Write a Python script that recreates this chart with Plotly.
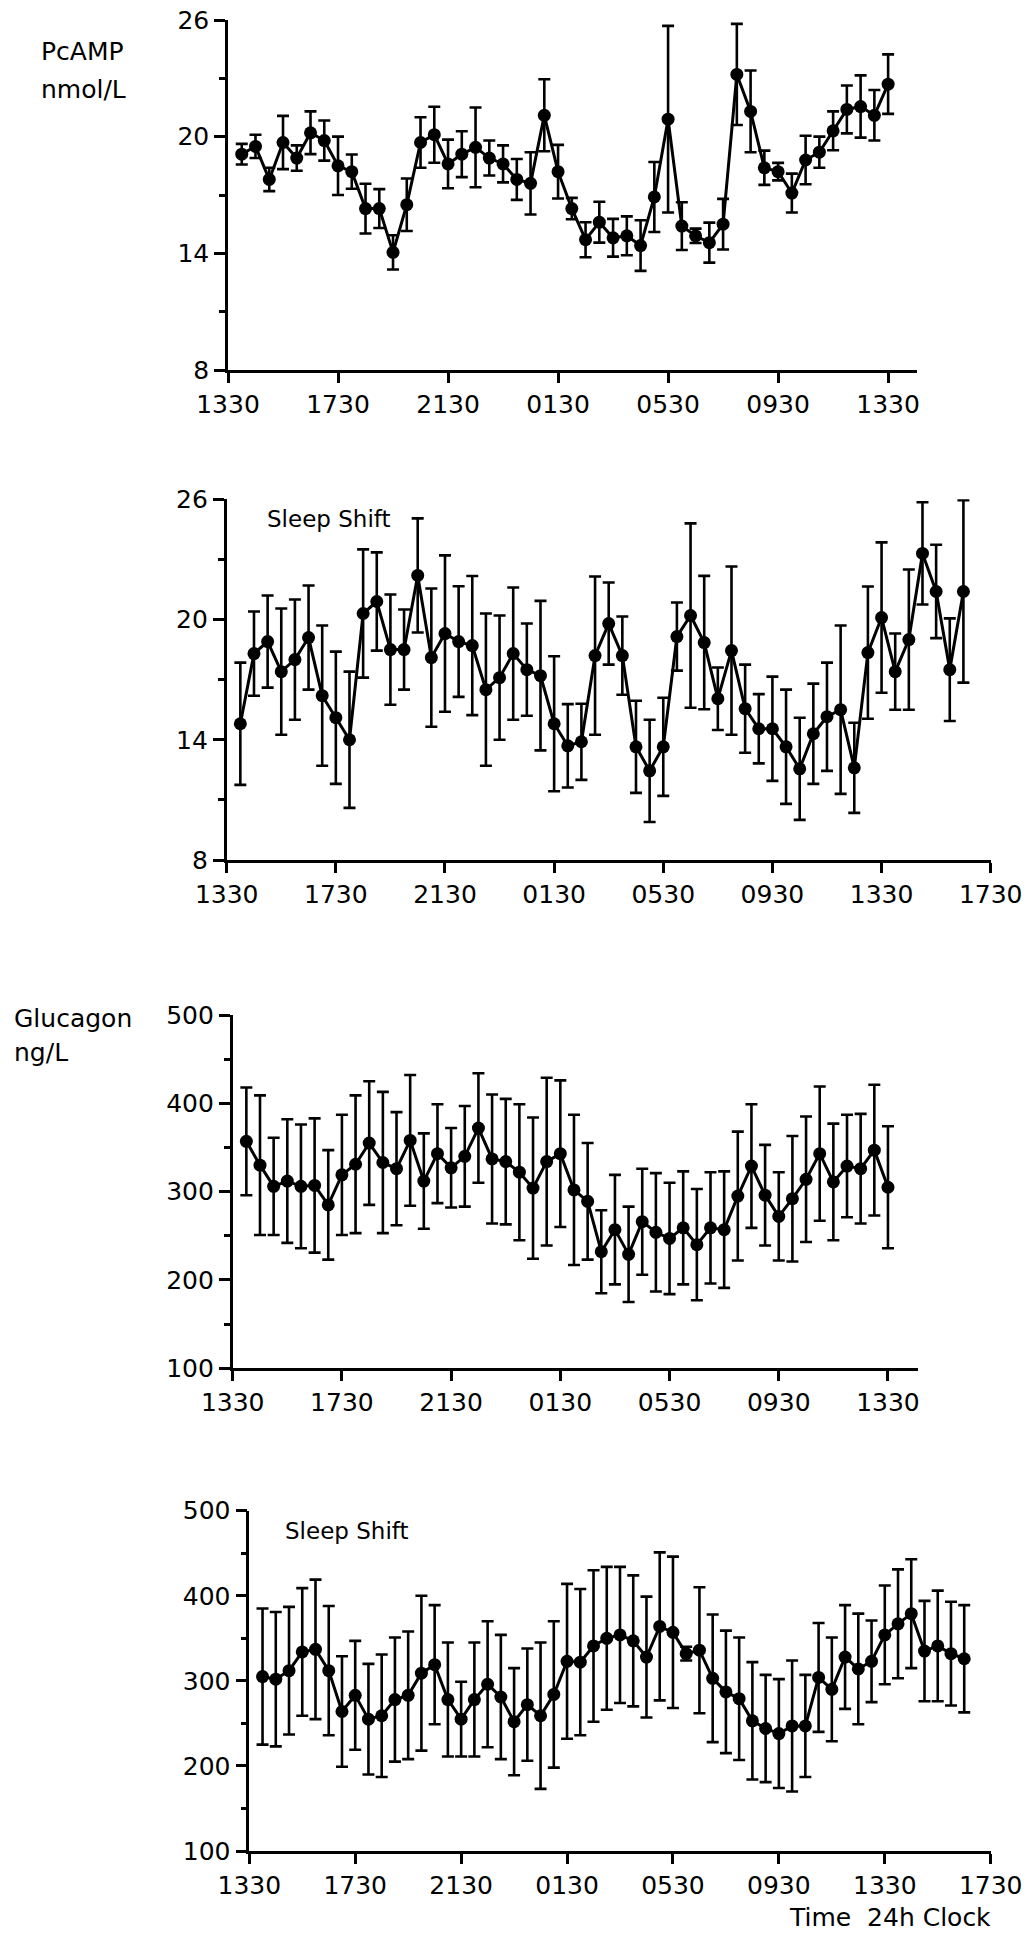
import plotly.graph_objects as go

# ---------------------------------------------------------------------------
# Data: 30-minute sampling, first sample at 14:00 (0.5 h after 13:30)
# ---------------------------------------------------------------------------
SAMPLE_START_H = 0.5
SAMPLE_STEP_H = 0.5

pcamp_normal = [19.1, 19.5, 17.8, 19.7, 18.9, 20.2, 19.8, 18.5, 18.2, 16.3,
                16.3, 14.05, 16.5, 19.7, 20.1, 18.6, 19.1, 19.45, 18.9, 18.6,
                17.8, 17.6, 21.1, 18.2, 16.3, 14.7, 15.6, 14.8, 14.9, 14.4,
                16.9, 20.9, 15.4, 14.9, 14.55, 15.5, 23.2, 21.3, 18.4, 18.2,
                17.1, 18.8, 19.2, 20.3, 21.4, 21.55, 21.1, 22.7]
pcamp_normal_sem = [0.53, 0.6, 0.6, 1.37, 0.65, 1.1, 1.03, 1.5, 0.88, 1.28,
                    1.0, 0.88, 1.35, 1.3, 1.44, 1.25, 1.18, 2.05, 0.9, 0.95,
                    1.05, 1.6, 1.85, 1.38, 0.55, 0.9, 1.05, 0.97, 1.0, 1.3,
                    1.8, 4.8, 1.23, 0.37, 1.03, 1.3, 2.6, 2.1, 0.88, 0.45,
                    1.0, 1.25, 0.8, 1.0, 1.23, 1.6, 1.3, 1.53]

pcamp_shift = [14.8, 18.3, 18.9, 17.4, 18.0, 19.1, 16.2, 15.1, 14.0, 20.3,
               20.9, 18.5, 18.5, 22.2, 18.1, 19.3, 18.9, 18.7, 16.5, 17.1,
               18.3, 17.5, 17.2, 14.8, 13.7, 13.9, 18.2, 19.8, 18.2, 13.65,
               12.45, 13.65, 19.15, 20.2, 18.85, 16.05, 18.45, 15.55, 14.55, 14.55,
               13.65, 12.55, 14.3, 15.15, 15.5, 12.6, 18.35, 20.1, 17.4, 19.0,
               23.3, 21.4, 17.5, 21.4]
pcamp_shift_sem = [3.05, 2.1, 2.3, 3.15, 3.0, 2.6, 3.5, 3.3, 3.4, 3.2,
                   2.45, 2.75, 2.0, 2.85, 3.45, 3.9, 2.76, 3.47, 3.8, 3.1,
                   3.3, 2.3, 3.73, 3.37, 2.08, 1.9, 3.95, 2.05, 1.95, 2.3,
                   2.55, 2.45, 1.7, 4.6, 3.33, 1.56, 4.2, 2.2, 1.73, 2.6,
                   2.85, 2.55, 2.5, 2.7, 4.2, 2.25, 3.3, 3.75, 1.9, 3.5,
                   2.55, 2.33, 2.56, 4.55]

glucagon_normal = [357, 330, 306, 312, 306, 307, 285, 319, 331, 355,
                   333, 326, 358, 312, 343, 327, 340, 372, 337, 334,
                   322, 304, 334, 343, 302, 289, 232, 257, 229, 266,
                   254, 247, 259, 240, 259, 257, 295, 329, 296, 272,
                   292, 314, 343, 311, 329, 326, 347, 305]
glucagon_normal_sem = [61, 79, 55, 70, 70, 76, 62, 68, 78, 70,
                       80, 64, 74, 54, 56, 45, 57, 62, 73, 71,
                       77, 80, 95, 83, 85, 66, 47, 62, 54, 60,
                       67, 63, 64, 63, 63, 66, 73, 70, 57, 50,
                       71, 71, 76, 66, 58, 62, 74, 69]

glucagon_shift = [305, 302, 312, 334, 337, 312, 264, 283, 255, 259,
                  278, 283, 309, 319, 278, 255, 278, 296, 281, 252,
                  272, 259, 284, 323, 322, 341, 350, 354, 347, 328,
                  364, 357, 332, 336, 303, 287, 279, 253, 244, 238,
                  247, 247, 304, 290, 328, 314, 323, 354, 367, 379,
                  335, 341, 332, 326]
glucagon_shift_sem = [80, 79, 75, 75, 82, 76, 65, 64, 65, 72,
                      73, 75, 91, 70, 67, 44, 67, 74, 73, 63,
                      66, 86, 86, 91, 86, 89, 84, 80, 77, 71,
                      87, 89, 8, 74, 75, 72, 72, 69, 63, 64,
                      77, 60, 64, 61, 61, 65, 48, 58, 64, 64,
                      59, 65, 61, 63]

# Clock ticks every 4 h, counted in hours after 13:30
clock_tick_hours = [0, 4, 8, 12, 16, 20, 24, 28]
clock_tick_text = ["1330", "1730", "2130", "0130", "0530", "0930", "1330", "1730"]

pcamp_ticks = [8, 14, 20, 26]
pcamp_minor = [11, 17, 23]
glucagon_ticks = [100, 200, 300, 400, 500]
glucagon_minor = [150, 250, 350, 450]

# ---------------------------------------------------------------------------
W, H = 1031, 1934
FONT = "DejaVu Sans"


def px_x(p):
    return p / W


def px_y(p):
    return 1 - p / H


# panel boxes in pixels: left, right, top, bottom
panels = [
    dict(y=pcamp_normal, e=pcamp_normal_sem, box=(228, 917, 20, 370), xend=25.05, nt=7,
         yr=[8, 26], yt=pcamp_ticks, ym=pcamp_minor),
    dict(y=pcamp_shift, e=pcamp_shift_sem, box=(226.7, 990.7, 499.3, 860), xend=28, nt=8,
         yr=[8, 26], yt=pcamp_ticks, ym=pcamp_minor),
    dict(y=glucagon_normal, e=glucagon_normal_sem, box=(232.7, 918, 1015, 1368.3), xend=25.1, nt=7,
         yr=[100, 500], yt=glucagon_ticks, ym=glucagon_minor),
    dict(y=glucagon_shift, e=glucagon_shift_sem, box=(249.3, 990.7, 1510.7, 1851), xend=28, nt=8,
         yr=[100, 500], yt=glucagon_ticks, ym=glucagon_minor),
]

fig = go.Figure()
layout_axes = {}
for k, p in enumerate(panels, start=1):
    sfx = "" if k == 1 else str(k)
    x0, x1, yt_px, yb_px = p["box"]
    hours = [SAMPLE_START_H + SAMPLE_STEP_H * i for i in range(len(p["y"]))]
    fig.add_trace(go.Scatter(
        x=hours, y=p["y"],
        xaxis="x" + sfx, yaxis="y" + sfx,
        mode="lines+markers",
        line=dict(color="black", width=3),
        marker=dict(color="black", size=13),
        error_y=dict(type="data", array=p["e"], visible=True,
                     color="black", thickness=2.6, width=6),
        showlegend=False, hoverinfo="skip",
        cliponaxis=False,
    ))
    axis_common = dict(
        showline=True, linecolor="black", linewidth=2.6,
        ticks="outside", tickcolor="black", tickwidth=2.6,
        showgrid=False, zeroline=False, automargin=False,
        tickfont=dict(family=FONT, size=25, color="black"),
    )
    layout_axes["xaxis" + sfx] = dict(
        axis_common,
        domain=[px_x(x0), px_x(x1)],
        range=[0, p["xend"]],
        anchor="y" + sfx,
        tickmode="array",
        tickvals=clock_tick_hours[:p["nt"]],
        ticktext=clock_tick_text[:p["nt"]],
        ticklen=10,
    )
    layout_axes["yaxis" + sfx] = dict(
        axis_common,
        domain=[px_y(yb_px), px_y(yt_px)],
        range=p["yr"],
        anchor="x" + sfx,
        tickmode="array",
        tickvals=p["yt"],
        ticklen=11,
        minor=dict(tickmode="array", tickvals=p["ym"], ticks="outside",
                   ticklen=6, tickwidth=2.6, tickcolor="black"),
    )

text_font = dict(family=FONT, size=25, color="black")
label_font = dict(family=FONT, size=23, color="black")
annotations = [
    dict(text="PcAMP", x=px_x(39), y=px_y(51), font=text_font),
    dict(text="nmol/L", x=px_x(39), y=px_y(90), font=text_font),
    dict(text="Glucagon", x=px_x(12), y=px_y(1018), font=text_font),
    dict(text="ng/L", x=px_x(12), y=px_y(1052), font=text_font),
    dict(text="Sleep Shift", x=px_x(265), y=px_y(519), font=label_font),
    dict(text="Sleep Shift", x=px_x(283), y=px_y(1531), font=label_font),
    dict(text="Time  24h Clock", x=px_x(787), y=px_y(1917), font=text_font),
]
for a in annotations:
    a.update(xref="paper", yref="paper", xanchor="left", yanchor="middle",
             showarrow=False)

fig.update_layout(
    width=W, height=H,
    margin=dict(l=0, r=0, t=0, b=0, pad=0, autoexpand=False),
    paper_bgcolor="white", plot_bgcolor="white",
    annotations=annotations,
    **layout_axes,
)

fig.write_html("out.html")
